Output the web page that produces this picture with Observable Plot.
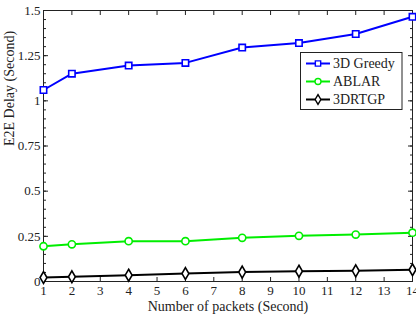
<!DOCTYPE html>
<html><head><meta charset="utf-8">
<script src="https://cdn.jsdelivr.net/npm/d3@7"></script>
<script src="https://cdn.jsdelivr.net/npm/@observablehq/plot@0.6"></script>
<style>
body{margin:0;background:#fff;}
#chart svg{display:block;font-family:"Liberation Serif","Times New Roman",serif;}
</style>
</head><body><div id="chart"></div>
<script>
const packets = [1, 2, 4, 6, 8, 10, 12, 14];
const greedy = [1.06, 1.15, 1.195, 1.21, 1.295, 1.32, 1.37, 1.465];
const ablar = [0.195, 0.206, 0.223, 0.223, 0.242, 0.253, 0.26, 0.27];
const drtgp = [0.022, 0.026, 0.035, 0.044, 0.052, 0.057, 0.059, 0.065];
const seriesNames = ["3D Greedy", "ABLAR", "3DRTGP"];
const seriesColors = ["#0000ff", "#00ee00", "#000000"];
const seriesSymbols = ["square", "circle", "diamond"];
const xTicks = [1,2,3,4,5,6,7,8,9,10,11,12,13,14];
const yTicks = [0, 0.25, 0.5, 0.75, 1, 1.25, 1.5];
const yTickLabels = ["0", "0.25", "0.5", "0.75", "1", "1.25", "1.5"];
const yMinorTicks = d3.range(0, 31).map(i => i * 0.05);
const xTitle = "Number of packets (Second)";
const yTitle = "E2E Delay (Second)";

const seriesValues = [greedy, ablar, drtgp];
const rows = [];
seriesNames.forEach((name, s) => packets.forEach((p, i) => rows.push({series: name, x: p, y: seriesValues[s][i]})));

const tk = {text: null, label: null, stroke: "#222"};
const marks = [
  Plot.frame({stroke: "#222", strokeWidth: 1}),
  // inward ticks
  Plot.axisX(xTicks, {anchor: "bottom", tickSize: 4, dy: -4, ...tk}),
  Plot.axisX(xTicks, {anchor: "top", tickSize: 4, dy: 4, ...tk}),
  Plot.axisY(yTicks, {anchor: "left", tickSize: 5, dx: 5, ...tk}),
  Plot.axisY(yTicks, {anchor: "right", tickSize: 5, dx: -5, ...tk}),
  Plot.axisY(yMinorTicks, {anchor: "left", tickSize: 3, dx: 3, ...tk}),
  Plot.axisY(yMinorTicks, {anchor: "right", tickSize: 3, dx: -3, ...tk}),
  // labels
  Plot.axisX(xTicks, {anchor: "bottom", tickSize: 0, tickPadding: 4, fontSize: 13, fill: "#222", label: null, tickFormat: d => String(d)}),
  Plot.axisY(yTicks, {anchor: "left", tickSize: 0, tickPadding: 3, fontSize: 13, fill: "#222", label: null, tickFormat: d => yTickLabels[yTicks.indexOf(d)]}),
  Plot.text([xTitle], {frameAnchor: "bottom", dy: 29, fontSize: 14, fill: "#222", text: d => d}),
  Plot.text([yTitle], {frameAnchor: "left", dx: -34, rotate: -90, fontSize: 14, fill: "#222", text: d => d}),
  // data
  Plot.line(rows, {x: "x", y: "y", z: "series", stroke: "series", strokeWidth: 2}),
  Plot.dot(rows, {x: "x", y: "y", stroke: "series", symbol: "series", r: 3.6, strokeWidth: 1.6, fill: "white"})
];

const chart = Plot.plot({
  width: 416, height: 315,
  marginLeft: 43, marginRight: 4, marginTop: 10, marginBottom: 34,
  style: {fontFamily: "Liberation Serif", background: "#fff"},
  x: {domain: [1, 14], axis: null},
  y: {domain: [0, 1.5], axis: null},
  color: {domain: seriesNames, range: seriesColors},
  symbol: {domain: seriesNames, range: seriesSymbols},
  marks
});
document.getElementById("chart").appendChild(chart);

// legend
const svg = d3.select(chart);
const lg = svg.append("g").attr("font-family", "Liberation Serif").attr("font-size", 14).attr("text-anchor", "start");
lg.append("rect").attr("x", 300.5).attr("y", 52.5).attr("width", 101.5).attr("height", 57)
  .attr("fill", "white").attr("stroke", "#222").attr("stroke-width", 1);
const symGen = d3.symbol().size(Math.PI * 3 * 3);
const d3Sym = {square: d3.symbolSquare, circle: d3.symbolCircle, diamond: d3.symbolDiamond};
seriesNames.forEach((name, i) => {
  const cy = 63.5 + i * 18;
  lg.append("line").attr("x1", 306).attr("x2", 330).attr("y1", cy).attr("y2", cy)
    .attr("stroke", seriesColors[i]).attr("stroke-width", 2);
  lg.append("path").attr("d", symGen.type(d3Sym[seriesSymbols[i]])())
    .attr("transform", `translate(318,${cy})`).attr("fill", "white")
    .attr("stroke", seriesColors[i]).attr("stroke-width", 1.4);
  lg.append("text").attr("x", 333).attr("y", cy).attr("dy", "0.35em").attr("fill", "#222")
    .attr("text-anchor", "start").text(name);
});
</script>
</body></html>
